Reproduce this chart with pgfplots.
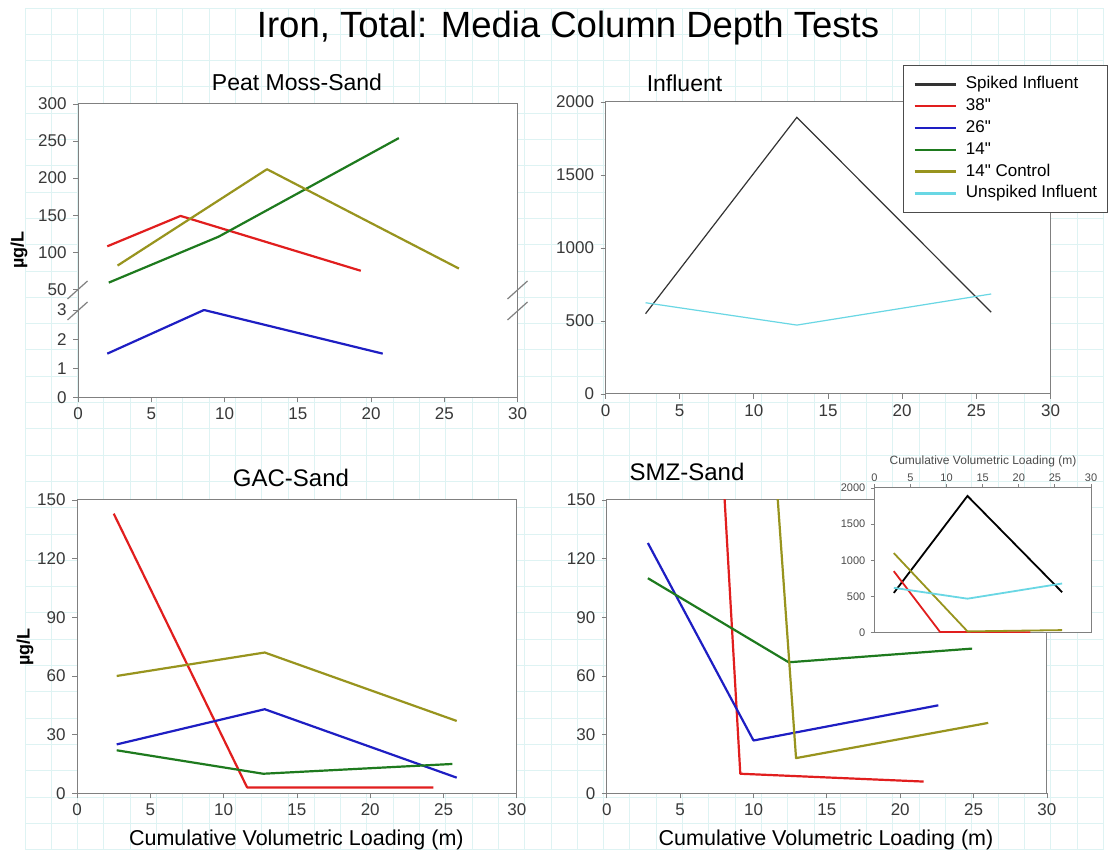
\documentclass[border=0pt]{standalone}
\usepackage{fontspec}
\setmainfont{Liberation Sans}
\newfontfamily\nq{Liberation Sans}[Ligatures=TeXOff]
\usepackage{pgfplots}
\pgfplotsset{compat=1.18}

\definecolor{cRed}{RGB}{225,30,30}
\definecolor{cBlue}{RGB}{30,30,195}
\definecolor{cGreen}{RGB}{30,122,30}
\definecolor{cOlive}{RGB}{152,148,30}
\definecolor{cCyan}{RGB}{105,215,228}
\definecolor{gridc}{RGB}{222,243,243}
\definecolor{framec}{RGB}{128,128,128}

\pgfplotsset{
  base/.style={
    scale only axis, anchor=south west,
    xmin=0, xmax=30, xtick={0,5,...,30},
    tick align=outside, major tick length=5bp,
    xtick pos=left, ytick pos=left,
    tick style={framec, line width=0.8bp},
    axis line style={framec, line width=1bp},
    ticklabel style={font=\fontsize{17bp}{20bp}\selectfont, text=black!78},
    /pgf/number format/assume math mode=true,
    /pgf/number format/1000 sep={},
    scaled ticks=false,
    axis background/.style={fill=white},
    yticklabel style={xshift=-3bp},
    xticklabel style={yshift=-2bp},
  },
  sRed/.style={color=cRed, line width=2.2bp, line join=round},
  sBlue/.style={color=cBlue, line width=2.2bp, line join=round},
  sGreen/.style={color=cGreen, line width=2.2bp, line join=round},
  sOlive/.style={color=cOlive, line width=2.2bp, line join=round},
}

\begin{document}
\begin{tikzpicture}
\useasboundingbox (0,0) rectangle (1116bp,854bp);
\fill[white] (0,0) rectangle (1116bp,854bp);
% graph paper background
\foreach \i in {0,...,41} \draw[gridc, line width=0.9bp] ({25bp+\i*26.3bp},4.4bp) -- ({25bp+\i*26.3bp},846bp);
\foreach \j in {0,...,32} \draw[gridc, line width=0.9bp] (25bp,{846bp-\j*26.3bp}) -- (1103.3bp,{846bp-\j*26.3bp});

% ---------------- Peat Moss-Sand (broken axis) ----------------
\fill[white] (78bp,456.7bp) rectangle (517.5bp,750bp);
\begin{axis}[base, at={(78bp,564.7bp)}, width=439.5bp, height=185.3bp,
  ymin=50, ymax=300, ytick={50,100,...,300}, xtick=\empty,
  axis line style={draw=none}]
  \addplot[sRed] coordinates {(2,108) (7,149) (19.3,75)};
  \addplot[sGreen] coordinates {(2.1,59) (9.6,121) (21.9,254)};
  \addplot[sOlive] coordinates {(2.7,82) (12.9,212) (26,78)};
\end{axis}
\begin{axis}[base, at={(78bp,456.7bp)}, width=439.5bp, height=87.3bp,
  ymin=0, ymax=3, ytick={0,1,2,3},
  axis line style={draw=none}]
  \addplot[sBlue] coordinates {(2,1.5) (8.6,3.0) (20.8,1.5)};
\end{axis}
\draw[framec, line width=1bp] (78bp,456.7bp) rectangle (517.5bp,750bp);
\foreach \xx in {77.5,517.5} {
  \draw[framec, line width=1.2bp] ({\xx*1bp-10bp},555bp) -- ({\xx*1bp+10bp},573bp);
  \draw[framec, line width=1.2bp] ({\xx*1bp-10bp},534bp) -- ({\xx*1bp+10bp},552bp);
}

% ---------------- Influent ----------------
\begin{axis}[base, at={(605.5bp,460bp)}, width=445bp, height=292bp,
  ymin=0, ymax=2000, ytick={0,500,...,2000},
  legend cell align=left,
  legend image code/.code={\draw[#1, line width=2.5bp] (0bp,0bp) -- (41bp,0bp);},
  legend style={at={(0.6685,1.1267)}, anchor=north west,
    draw=black!70, line width=0.8bp, fill=white,
    font=\fontsize{17bp}{20bp}\selectfont,
    inner xsep=10bp, inner ysep=11bp,
    row sep=5.8bp, column sep=9bp,
    nodes={inner sep=0bp, text height=12.5bp, text depth=3.5bp}}]
  \addplot[color=black!80, line width=1.2bp] coordinates {(2.7,550) (12.9,1895) (26,560)};
  \addlegendentry{Spiked Influent}
  \addlegendimage{sRed}\addlegendentry{38{\nq "}}
  \addlegendimage{sBlue}\addlegendentry{26{\nq "}}
  \addlegendimage{sGreen}\addlegendentry{14{\nq "}}
  \addlegendimage{sOlive}\addlegendentry{14{\nq "} Control}
  \addplot[color=cCyan, line width=1.2bp] coordinates {(2.7,625) (12.9,472) (26,685)};
  \addlegendentry{Unspiked Influent}
\end{axis}

% ---------------- GAC-Sand ----------------
\begin{axis}[base, at={(77.1bp,60.7bp)}, width=439.7bp, height=293.3bp,
  ymin=0, ymax=150, ytick={0,30,...,150}]
  \addplot[sRed] coordinates {(2.5,143) (11.6,3) (24.3,3)};
  \addplot[sBlue] coordinates {(2.7,25) (12.8,43) (25.9,8)};
  \addplot[sGreen] coordinates {(2.7,22) (12.7,10) (25.6,15)};
  \addplot[sOlive] coordinates {(2.7,60) (12.8,72) (25.9,37)};
\end{axis}

% ---------------- SMZ-Sand ----------------
\begin{axis}[base, at={(606.8bp,60.7bp)}, width=440.1bp, height=293.3bp,
  ymin=0, ymax=150, ytick={0,30,...,150}]
  \addplot[sRed] coordinates {(2.7,850) (9.1,10) (21.6,6)};
  \addplot[sBlue] coordinates {(2.8,128) (10,27) (22.6,45)};
  \addplot[sGreen] coordinates {(2.8,110) (12.4,67) (24.9,74)};
  \addplot[sOlive] coordinates {(2.7,1100) (12.9,18) (26,36)};
\end{axis}

% ---------------- inset ----------------
\begin{axis}[base, at={(874.3bp,221.3bp)}, width=216.7bp, height=144.7bp,
  ymin=0, ymax=2000, ytick={0,500,...,2000},
  xtick pos=right, xticklabel pos=right,
  major tick length=3.5bp,
  xticklabel style={yshift=1bp},
  yticklabel style={xshift=1bp},
  ticklabel style={font=\fontsize{11bp}{13bp}\selectfont, text=black!70}]
  \addplot[color=black, line width=1.8bp] coordinates {(2.7,550) (12.9,1890) (26,560)};
  \addplot[color=cRed, line width=1.8bp] coordinates {(2.7,850) (9.1,10) (21.6,6)};
  \addplot[color=cOlive, line width=1.8bp] coordinates {(2.7,1100) (12.9,18) (26,36)};
  \addplot[color=cCyan, line width=1.8bp] coordinates {(2.7,620) (12.9,470) (26,680)};
\end{axis}
\node[anchor=base, font=\fontsize{12bp}{14bp}\selectfont, text=black!70] at (983bp,389bp) {Cumulative Volumetric Loading (m)};

% ---------------- texts ----------------
\node[anchor=base, font=\fontsize{36.5bp}{42bp}\selectfont] at (568bp,816bp) {Iron, Total: Media Column Depth Tests};
\node[anchor=base, font=\fontsize{23bp}{26bp}\selectfont] at (297bp,763bp) {Peat Moss-Sand};
\node[anchor=base, font=\fontsize{23bp}{26bp}\selectfont] at (684.5bp,762.5bp) {Influent};
\node[anchor=base, font=\fontsize{24bp}{27bp}\selectfont] at (291bp,367bp) {GAC-Sand};
\node[anchor=base, font=\fontsize{24bp}{27bp}\selectfont] at (687bp,373.5bp) {SMZ-Sand};
\node[anchor=base, font=\fontsize{21.5bp}{25bp}\selectfont] at (296.4bp,9bp) {Cumulative Volumetric Loading (m)};
\node[anchor=base, font=\fontsize{21.5bp}{25bp}\selectfont] at (826bp,8.5bp) {Cumulative Volumetric Loading (m)};
\node[rotate=90, font=\fontsize{18bp}{22bp}\selectfont\bfseries] at (19bp,604bp) {µg/L};
\node[rotate=90, font=\fontsize{18bp}{22bp}\selectfont\bfseries] at (25bp,207bp) {µg/L};
\end{tikzpicture}
\end{document}
